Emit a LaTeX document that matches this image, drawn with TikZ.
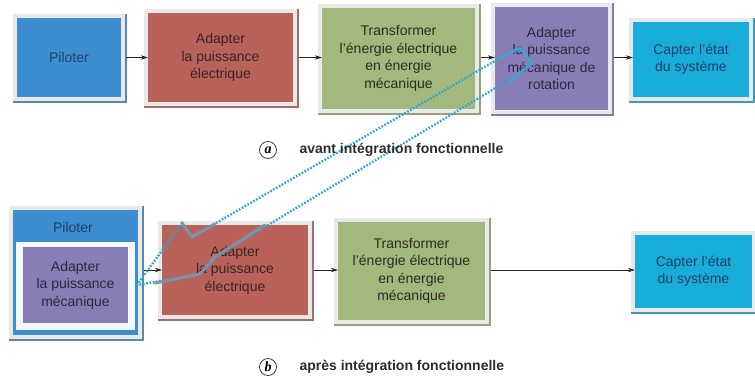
\documentclass[tikz,border=0pt]{standalone}
\usepackage{fontspec}
\setmainfont{Liberation Sans}
\newfontfamily\capserif{Liberation Serif}
\usetikzlibrary{arrows.meta,backgrounds}
\definecolor{cpil}{HTML}{3D8ED0}
\definecolor{cred}{HTML}{B8625A}
\definecolor{cgrn}{HTML}{A3B87C}
\definecolor{cpur}{HTML}{897DB6}
\definecolor{ccya}{HTML}{18ADD8}
\definecolor{tblue}{HTML}{1E3F6E}
\definecolor{tred}{HTML}{3A2525}
\definecolor{tgrn}{HTML}{2B2B22}
\definecolor{tpur}{HTML}{2A2840}
\definecolor{framebg}{HTML}{E9E9E9}
\definecolor{dotc}{HTML}{27A9D6}
\definecolor{grayov}{HTML}{7D93AD}
\definecolor{blueov}{HTML}{45A2D6}
\definecolor{captxt}{HTML}{2D2D2D}
\begin{document}
\begin{tikzpicture}[x=1pt,y=-1pt,
  blk/.style={rectangle, inner sep=0pt, align=center, font=\fontsize{14}{17.5}\selectfont},
  arr/.style={-{Stealth[length=7pt,width=4.5pt]}, line width=0.7pt, color=black!85},
  dotl/.style={dotc, line width=2.3pt, dash pattern=on 1.7pt off 1.6pt},
  ovl/.style={line width=3.2pt, line join=round, line cap=round, opacity=0.9},
  capt/.style={anchor=west, text=captxt, font=\bfseries\fontsize{14}{16}\selectfont},
  capc/.style={circle, draw=black!75, line width=0.8pt, minimum size=17pt, inner sep=0pt, font=\capserif\bfseries\itshape\fontsize{14}{14}\selectfont}]
\useasboundingbox (0,0) rectangle (755,376);

% ---- top row ----
\node[blk, fill=cpil, minimum width=104pt, minimum height=79pt, text=tblue] (pil1) at (69,57.5) {Piloter};
\node[blk, fill=cred, minimum width=145pt, minimum height=89pt, text=tred] (red1) at (220.5,57.5) {Adapter\\la puissance\\électrique};
\node[blk, fill=cgrn, minimum width=153pt, minimum height=101pt, text=tgrn] (grn1) at (398.5,58.5) {Transformer\\l'énergie électrique\\en énergie\\mécanique};
\node[blk, fill=cpur, minimum width=113pt, minimum height=103pt, text=tpur] (pur1) at (551.5,58.5) {Adapter\\la puissance\\mécanique de\\rotation};
\node[blk, fill=ccya, minimum width=116pt, minimum height=75pt, text=tblue] (cya1) at (691,59.5) {Capter l'état\\du système};

% ---- bottom row ----
\node[blk, fill=cpil, minimum width=125pt, minimum height=125pt] (pilout) at (75.5,272.5) {};
\node[blk, fill=white!94!cpil, minimum width=119pt, minimum height=88pt] (pilin) at (75.5,286) {};
\node[blk, text=tblue] (piltxt) at (73,227) {Piloter};
\node[blk, fill=cpur, minimum width=105pt, minimum height=76pt, text=tpur] (pur2) at (75.5,285) {Adapter\\la puissance\\mécanique};
\node[blk, fill=cred, minimum width=146pt, minimum height=90pt, text=tred] (red2) at (235,270) {Adapter\\la puissance\\électrique};
\node[blk, fill=cgrn, minimum width=147pt, minimum height=98pt, text=tgrn] (grn2) at (411.5,271) {Transformer\\l'énergie électrique\\en énergie\\mécanique};
\node[blk, fill=ccya, minimum width=117pt, minimum height=73pt, text=tblue] (cya2) at (693.5,271.5) {Capter l'état\\du système};

% ---- frames ----
\begin{scope}[on background layer]
\fill[white] (0,0) rectangle (755,376);
\foreach \n/\c in {pil1/cpil, red1/cred, grn1/cgrn, pur1/cpur, cya1/ccya, pilout/cpil, red2/cred, grn2/cgrn, cya2/ccya} {
  \fill[framebg] ([xshift=-4pt,yshift=4pt]\n.north west) rectangle ([xshift=6pt,yshift=-6pt]\n.south east);
  \draw[color=\c!60!gray, line width=2pt] ([xshift=-4pt,yshift=-5pt]\n.south west) -- ([xshift=5pt,yshift=-5pt]\n.south east) -- ([xshift=5pt,yshift=4pt]\n.north east);
}
\end{scope}

% ---- arrows ----
\draw[arr] ([xshift=5pt]pil1.east) -- (red1.west |- pil1.east);
\draw[arr] ([xshift=6pt]red1.east |- pil1.east) -- (grn1.west |- pil1.east);
\draw[arr] ([xshift=6pt]grn1.east |- pil1.east) -- (pur1.west |- pil1.east);
\draw[arr] ([xshift=6pt]pur1.east |- pil1.east) -- (cya1.west |- pil1.east);
\draw[arr] ([xshift=6pt]pilout.east |- red2.east) -- (red2.west);
\draw[arr] ([xshift=6pt]red2.east) -- (grn2.west |- red2.east);
\draw[arr] ([xshift=6pt]grn2.east |- red2.east) -- (cya2.west |- red2.east);

% ---- dotted links ----
\coordinate (ta) at (500,58);
\coordinate (tb) at (512,78);
\coordinate (ka) at (192,237);
\coordinate (kb) at (182,223);
\coordinate (kc) at (215,257);
\coordinate (kd) at (200,274);
\coordinate (ba) at (137,285);
\draw[dotl] (ta) -- (ka) -- (kb) -- (ba);
\draw[dotl] (tb) -- (kc) -- (kd) -- (ba);
\coordinate (ga) at (215,224);
\coordinate (gb) at (265,225);
\coordinate (gc) at (155,283);
\draw[ovl, grayov] (ga) -- (ka) -- (kb);
\draw[ovl, grayov] (gb) -- (kc) -- (kd) -- (gc);
\coordinate (tc) at (520,48);
\coordinate (td) at (532,63);
\coordinate (te) at (510,82);
\draw[ovl, blueov] (ta) -- (tc) -- (td) -- (te);

% ---- captions ----
\node[capc] (ca) at (268,150) {a};
\node[capt] (cat) at (296,150) {avant intégration fonctionnelle};
\node[capc] (cb) at (268,367) {b};
\node[capt] (cbt) at (296,367) {après intégration fonctionnelle};
\end{tikzpicture}
\end{document}
